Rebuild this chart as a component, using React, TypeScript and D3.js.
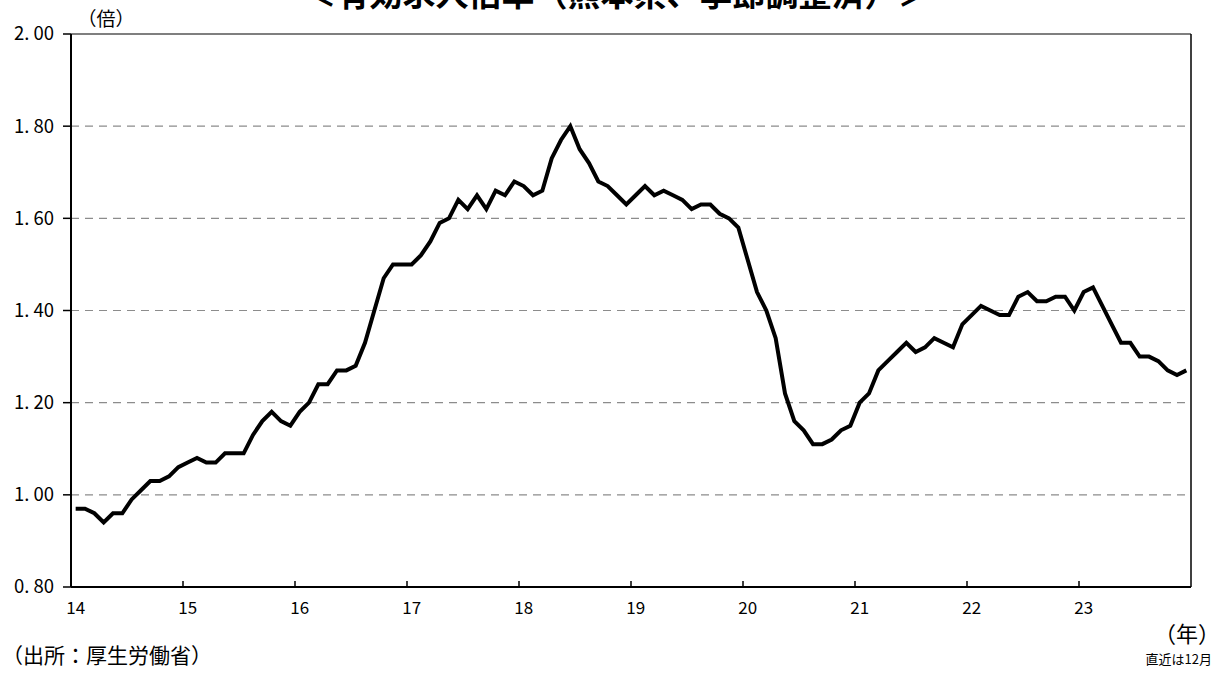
import * as d3 from 'd3';

const years = ['14', '15', '16', '17', '18', '19', '20', '21', '22', '23'];
const yTicks = [0.8, 1.0, 1.2, 1.4, 1.6, 1.8, 2.0];

// 有効求人倍率（熊本県、季節調整済） 2014年1月〜2023年12月
const ratio2014 = [0.97, 0.97, 0.96, 0.94, 0.96, 0.96, 0.99, 1.01, 1.03, 1.03, 1.04, 1.06];
const ratio2015 = [1.07, 1.08, 1.07, 1.07, 1.09, 1.09, 1.09, 1.13, 1.16, 1.18, 1.16, 1.15];
const ratio2016 = [1.18, 1.2, 1.24, 1.24, 1.27, 1.27, 1.28, 1.33, 1.4, 1.47, 1.5, 1.5];
const ratio2017 = [1.5, 1.52, 1.55, 1.59, 1.6, 1.64, 1.62, 1.65, 1.62, 1.66, 1.65, 1.68];
const ratio2018 = [1.67, 1.65, 1.66, 1.73, 1.77, 1.8, 1.75, 1.72, 1.68, 1.67, 1.65, 1.63];
const ratio2019 = [1.65, 1.67, 1.65, 1.66, 1.65, 1.64, 1.62, 1.63, 1.63, 1.61, 1.6, 1.58];
const ratio2020 = [1.51, 1.44, 1.4, 1.34, 1.22, 1.16, 1.14, 1.11, 1.11, 1.12, 1.14, 1.15];
const ratio2021 = [1.2, 1.22, 1.27, 1.29, 1.31, 1.33, 1.31, 1.32, 1.34, 1.33, 1.32, 1.37];
const ratio2022 = [1.39, 1.41, 1.4, 1.39, 1.39, 1.43, 1.44, 1.42, 1.42, 1.43, 1.43, 1.4];
const ratio2023 = [1.44, 1.45, 1.41, 1.37, 1.33, 1.33, 1.3, 1.3, 1.29, 1.27, 1.26, 1.27];

const values = [
	...ratio2014, ...ratio2015, ...ratio2016, ...ratio2017, ...ratio2018,
	...ratio2019, ...ratio2020, ...ratio2021, ...ratio2022, ...ratio2023,
];

const FONT = '"Noto Sans CJK JP", "Noto Sans", sans-serif';

const App = () => {
	const width = 1224;
	const height = 673;
	const left = 71;
	const right = 1191;
	const top = 34;
	const bottom = 587;

	const x = d3
		.scaleBand<number>()
		.domain(d3.range(values.length))
		.range([left, right]);
	const xc = (i: number) => (x(i) ?? 0) + x.bandwidth() / 2;

	const y = d3.scaleLinear().domain([0.8, 2.0]).range([bottom, top]);

	const line = d3
		.line<number>()
		.x((_, i) => xc(i))
		.y((d) => y(d));

	return (
		<svg
			width={width}
			height={height}
			style={{ position: 'absolute', left: 0, top: 0, background: '#fff' }}
			fontFamily={FONT}
		>
			{/* title is clipped at the top edge, as in the source image */}
			<text x={617} y={6} textAnchor='middle' fontSize={33} fontWeight='bold'>
				＜有効求人倍率（熊本県、季節調整済）＞
			</text>

			{/* grid */}
			{yTicks
				.filter((t) => t > 0.8 && t < 2.0)
				.map((t) => (
					<line
						key={t}
						x1={left}
						x2={right}
						y1={y(t)}
						y2={y(t)}
						stroke='#8c8c8c'
						strokeWidth={1.2}
						strokeDasharray='8,6'
					/>
				))}
			<line x1={left} x2={right} y1={y(2.0)} y2={y(2.0)} stroke='#555' strokeWidth={1.5} />
			<line x1={right} x2={right} y1={top} y2={bottom} stroke='#000' strokeWidth={1.5} />

			{/* y axis */}
			<line x1={left} x2={left} y1={top} y2={bottom} stroke='#000' strokeWidth={2} />
			{yTicks.map((t) => (
				<g key={t}>
					<line x1={left - 8} x2={left} y1={y(t)} y2={y(t)} stroke='#000' strokeWidth={1.5} />
					<text x={54} y={y(t)} dy='0.35em' textAnchor='end' fontSize={18.5}>
						{t.toFixed(2).replace('.', '. ')}
					</text>
				</g>
			))}
			<text x={106} y={19} dy='0.35em' textAnchor='middle' fontSize={19}>
				（倍）
			</text>

			{/* x axis */}
			<line x1={left} x2={right} y1={bottom} y2={bottom} stroke='#000' strokeWidth={2} />
			{years.map((yr, k) => (
				<g key={yr}>
					<line
						x1={x(k * 12) ?? 0}
						x2={x(k * 12) ?? 0}
						y1={bottom}
						y2={bottom - 6}
						stroke='#000'
						strokeWidth={1.5}
					/>
					<text x={xc(k * 12)} y={608} dy='0.35em' textAnchor='middle' fontSize={17}>
						{yr}
					</text>
				</g>
			))}

			<path d={line(values) ?? ''} fill='none' stroke='#000' strokeWidth={4} strokeLinejoin='miter' />

			<text x={1220} y={634} dy='0.35em' textAnchor='end' fontSize={22}>
				（年）
			</text>
			<text x={1212} y={659} dy='0.35em' textAnchor='end' fontSize={13}>
				直近は12月
			</text>
			<text x={2} y={656} dy='0.35em' fontSize={21}>
				（出所：厚生労働省）
			</text>
		</svg>
	);
};

export default App;
